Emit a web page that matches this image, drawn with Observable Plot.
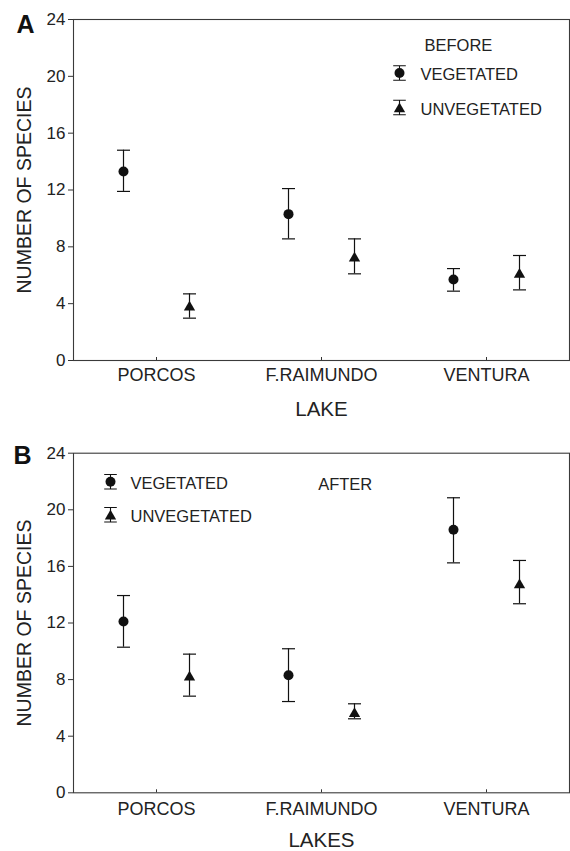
<!DOCTYPE html>
<html>
<head>
<meta charset="utf-8">
<script src="https://cdn.jsdelivr.net/npm/d3@7"></script>
<script src="https://cdn.jsdelivr.net/npm/@observablehq/plot@0.6"></script>
<style>
  body { margin: 0; background: #fff; }
  #chart svg { display: block; }
</style>
</head>
<body>
<div id="chart"></div>
<script>
// ---- data ----
const lakes = ["PORCOS", "F.RAIMUNDO", "VENTURA"];
const yTicks = [0, 4, 8, 12, 16, 20, 24];
const seriesNames = ["VEGETATED", "UNVEGETATED"];

// Panel A — BEFORE
const beforeVegMean = [13.3, 10.3, 5.7];
const beforeVegLow = [11.9, 8.56, 4.88];
const beforeVegHigh = [14.8, 12.1, 6.47];
const beforeUnvegMean = [3.87, 7.32, 6.17];
const beforeUnvegLow = [2.98, 6.10, 4.97];
const beforeUnvegHigh = [4.69, 8.56, 7.39];

// Panel B — AFTER
const afterVegMean = [12.1, 8.31, 18.59];
const afterVegLow = [10.29, 6.45, 16.25];
const afterVegHigh = [13.94, 10.18, 20.85];
const afterUnvegMean = [8.29, 5.70, 14.81];
const afterUnvegLow = [6.83, 5.23, 13.36];
const afterUnvegHigh = [9.80, 6.29, 16.42];

// ---- helpers ----
const FONT = "'Liberation Sans', Arial, Helvetica, sans-serif";
const INK = "#111";

const capSym = {
  draw(ctx, size) {
    const r = Math.sqrt(size / Math.PI);
    ctx.moveTo(-r, 0); ctx.lineTo(r, 0);
  }
};
const ibeamSym = {
  draw(ctx, size) {
    const r = Math.sqrt(size / Math.PI);
    const h = r * 1.15;
    ctx.moveTo(-r, -h); ctx.lineTo(r, -h);
    ctx.moveTo(0, -h); ctx.lineTo(0, h);
    ctx.moveTo(-r, h); ctx.lineTo(r, h);
  }
};

function rows(mean, lo, hi) {
  return lakes.map((lake, i) => ({lake, mean: mean[i], lo: lo[i], hi: hi[i]}));
}

function panel(cfg) {
  const {veg, unveg, height, marginTop, marginBottom, letter, letterDx, letterDy,
         xTitle, xTitleDy, tickPad, legend} = cfg;
  const width = 570, marginLeft = 73, marginRight = 1;
  const plotH = height - marginTop - marginBottom;
  const OFF = 33;
  const marks = [];

  marks.push(Plot.frame({stroke: "#3a3a3a", strokeWidth: 1.1}));
  marks.push(Plot.axisY(yTicks, {tickSize: 5, tickPadding: 3, fontSize: 17, label: null, stroke: "#333"}));
  marks.push(Plot.axisX({tickSize: 0, tickPadding: tickPad, fontSize: 18, label: null}));
  marks.push(Plot.tickX(lakes, {x: d => d, insetTop: plotH - 3, stroke: "#333"}));

  const series = [
    {data: veg, dx: -OFF, symbol: "circle", r: 5, dy: 0},
    {data: unveg, dx: OFF, symbol: "triangle", r: 4.2, dy: 1.7}
  ];
  for (const s of series) {
    marks.push(Plot.ruleX(s.data, {x: "lake", y1: "lo", y2: "hi", dx: s.dx, stroke: INK, strokeWidth: 1.2}));
    marks.push(Plot.dot(s.data, {x: "lake", y: "lo", dx: s.dx, symbol: capSym, r: 6.5, fill: "none", stroke: INK, strokeWidth: 1.2}));
    marks.push(Plot.dot(s.data, {x: "lake", y: "hi", dx: s.dx, symbol: capSym, r: 6.5, fill: "none", stroke: INK, strokeWidth: 1.2}));
    marks.push(Plot.dot(s.data, {x: "lake", y: "mean", dx: s.dx, dy: s.dy, symbol: s.symbol, r: s.r, fill: INK, stroke: "none"}));
  }

  // axis titles and panel letter
  marks.push(Plot.text(["NUMBER OF SPECIES"], {text: d => d, frameAnchor: "left", dx: -49, rotate: -90,
    textAnchor: "middle", lineAnchor: "middle", fontSize: 19.5, fill: "#222"}));
  marks.push(Plot.text([xTitle], {text: d => d, frameAnchor: "bottom", dy: xTitleDy,
    lineAnchor: "bottom", fontSize: 20.5, fill: "#222"}));
  marks.push(Plot.text([letter], {text: d => d, frameAnchor: "top-left", dx: letterDx, dy: letterDy,
    textAnchor: "start", lineAnchor: "bottom", fontSize: 25, fontWeight: "bold", fill: "#111"}));

  // legend
  const L = legend;
  if (L.title) {
    marks.push(Plot.text([L.title], {text: d => d, frameAnchor: "top-left", dx: L.titleDx, dy: L.titleDy,
      textAnchor: "start", lineAnchor: "bottom", fontSize: 16.5, fill: "#222"}));
  }
  const legSyms = [["circle", 5, 0], ["triangle", 4.2, 1.5]];
  seriesNames.forEach((name, i) => {
    const rowDy = L.dy0 + i * L.step;
    marks.push(Plot.dot([name], {frameAnchor: "top-left", dx: L.symDx, dy: rowDy, symbol: ibeamSym, r: 6.3,
      fill: "none", stroke: INK, strokeWidth: 1.1}));
    marks.push(Plot.dot([name], {frameAnchor: "top-left", dx: L.symDx, dy: rowDy + legSyms[i][2], symbol: legSyms[i][0],
      r: legSyms[i][1], fill: INK, stroke: "none"}));
    marks.push(Plot.text([name], {text: d => d, frameAnchor: "top-left", dx: L.textDx, dy: rowDy + 7,
      textAnchor: "start", lineAnchor: "bottom", fontSize: 16.5, fill: "#222"}));
  });

  return Plot.plot({
    width, height, marginTop, marginBottom, marginLeft, marginRight,
    style: {fontFamily: FONT, color: "#222", background: "#fff", overflow: "visible"},
    x: {type: "point", domain: lakes, padding: 0.5},
    y: {domain: [0, 24]},
    marks
  });
}

const chartA = panel({
  veg: rows(beforeVegMean, beforeVegLow, beforeVegHigh),
  unveg: rows(beforeUnvegMean, beforeUnvegLow, beforeUnvegHigh),
  height: 430, marginTop: 19, marginBottom: 70,
  letter: "A", letterDx: -57, letterDy: 13,
  xTitle: "LAKE", xTitleDy: 55, tickPad: 8,
  legend: {title: "BEFORE", titleDx: 351, titleDy: 31, symDx: 326, textDx: 347, dy0: 53.5, step: 34.5}
});
const chartB = panel({
  veg: rows(afterVegMean, afterVegLow, afterVegHigh),
  unveg: rows(afterUnvegMean, afterUnvegLow, afterUnvegHigh),
  height: 421, marginTop: 22.7, marginBottom: 58.7,
  letter: "B", letterDx: -60, letterDy: 10.5,
  xTitle: "LAKES", xTitleDy: 54, tickPad: 9,
  legend: {title: "AFTER", titleDx: 244.7, titleDy: 36.6, symDx: 37, textDx: 57, dy0: 28.5, step: 33}
});
document.getElementById("chart").append(chartA, chartB);
</script>
</body>
</html>
